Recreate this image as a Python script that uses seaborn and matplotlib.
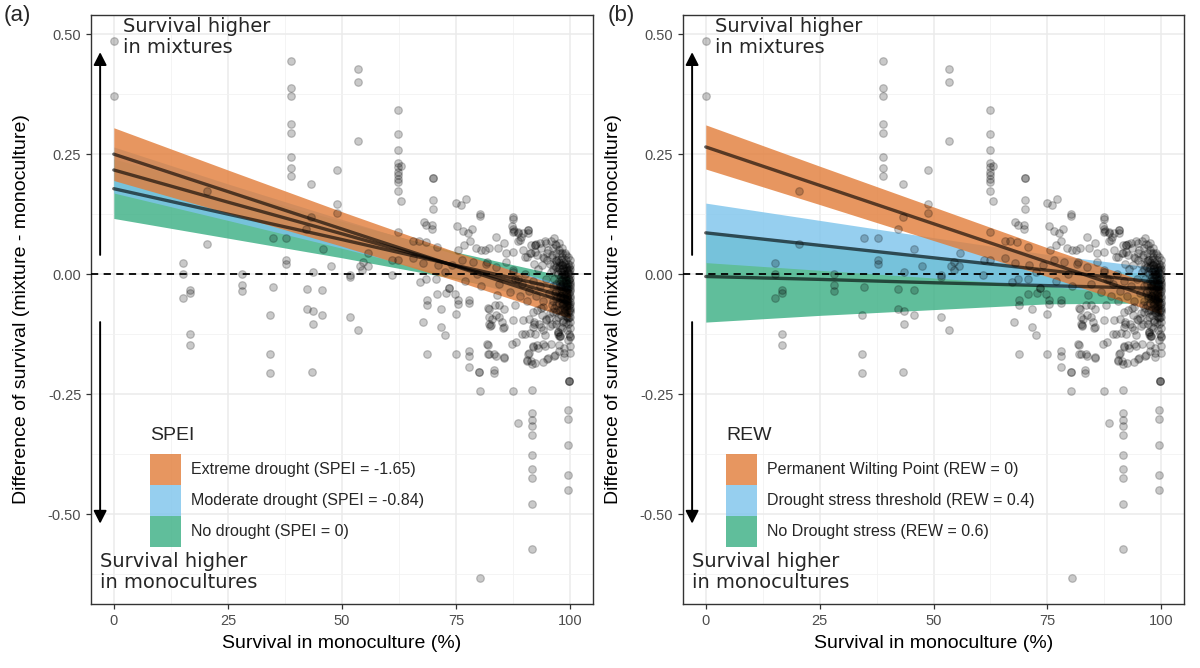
import matplotlib
matplotlib.use("Agg")
import numpy as np
import pandas as pd
import matplotlib.pyplot as plt
import seaborn as sns
from matplotlib.patches import Patch
from matplotlib.ticker import MultipleLocator

x1 = [0, 0, 15.2, 15.2, 15.2, 16.7, 16.7, 16.7, 16.7, 20.4,
      20.4, 28.1, 28.1, 28.1, 34.8, 34.8, 34.2, 34.3, 34.3, 37.8,
      37.8, 37.8, 38.9, 38.9, 38.9, 38.9, 38.9, 38.9, 38.9, 38.9,
      42.2, 43.3, 43.3, 43.4]
y1 = [0.485, 0.372, 0.023, 0.0, -0.05, -0.033, -0.04, -0.125, -0.147, 0.174,
      0.0625, 0.0, -0.023, -0.035, 0.076, -0.026, -0.086, -0.167, -0.206, 0.076,
      0.03, 0.022, 0.444, 0.388, 0.371, 0.313, 0.294, 0.245, 0.221, 0.205,
      0.095, 0.12, 0.187, -0.204]

x2 = [43.6, 47.5, 42.3, 45.7, 42.3, 43.6, 45.7, 43.6, 45.8, 48.9,
      48.9, 48.9, 51.7, 51.7, 51.7, 53.5, 53.5, 53.5, 53.5, 55.8,
      54.5, 55.6, 53.9, 54.4]
y2 = [0.005, 0.017, -0.031, -0.033, -0.072, -0.077, -0.085, -0.104, 0.053, 0.217,
      0.146, 0.128, -0.002, -0.006, -0.09, 0.428, 0.40, 0.277, -0.117, 0.043,
      0.026, 0.017, 0.017, 0.008]

x3 = [60.9, 62.3, 62.3, 62.3, 62.3, 62.3, 62.3, 62.3, 62.3, 62.3,
      62.3, 62.3, 62.3, 63.0, 63.0, 65.6, 65.6, 66.9, 67.9, 68.5,
      68.4, 67.8, 69.8, 69.8, 70.0, 70.0, 70.0, 70.0, 70.8, 61.0,
      71.0, 74.0, 76.4, 78.6, 81.5, 83.8, 86.0, 87.4, 72.5, 79.5,
      75.0, 76.1, 77.2, 80.2, 80.2, 75.3, 76.5, 77.5, 78.5, 83.8,
      85.5, 87.4, 87.4, 87.4, 88.6, 75.5, 76.8, 78.0, 79.3, 80.5,
      82.2, 84.2, 86.0, 81.3, 81.7, 87.5, 89.0, 89.7, 89.7, 87.5,
      87.5]
y3 = [-0.002, 0.342, 0.292, 0.259, 0.232, 0.224, 0.213, 0.206, 0.199, 0.192,
      0.174, 0.088, 0.03, 0.225, 0.153, 0.07, 0.034, 0.07, 0.109, 0.102,
      0.067, 0.023, 0.102, 0.093, 0.2, 0.2, 0.154, 0.135, 0.057, 0.03,
      0.018, 0.02, 0.03, 0.026, 0.022, 0.015, 0.025, 0.008, 0.005, 0.0,
      0.149, 0.144, 0.156, 0.126, 0.121, 0.1, 0.09, 0.085, 0.095, 0.078,
      0.064, 0.115, 0.095, 0.088, 0.088, 0.05, 0.06, 0.07, 0.055, 0.05,
      0.055, 0.054, 0.045, 0.05, 0.026, 0.046, 0.071, 0.085, 0.05, 0.119,
      0.005]

x4 = [67.2, 68.5, 70.7, 68.7, 68.7, 70.8, 72.7, 74.7, 73.4, 73.4,
      75.4, 75.4, 77.9, 77.9, 71.6, 75.0, 67.7, 71.6, 72.6, 68.7,
      75.0, 77.9, 77.9, 77.9, 80.1, 80.1, 83.3, 83.3, 81.7, 82.0,
      83.4, 85.5, 80.2, 87.5, 88.1, 82.3, 82.3, 82.6, 82.0, 83.5,
      84.5, 85.5, 85.5, 83.9, 86.8, 87.9, 77.0, 80.5, 84.5, 88.0,
      84.5, 87.5]
y4 = [-0.016, -0.011, -0.011, -0.054, -0.065, -0.042, -0.04, -0.042, -0.028, -0.028,
      -0.054, -0.063, -0.054, -0.061, -0.073, -0.084, -0.099, -0.11, -0.127, -0.167,
      -0.167, -0.16, -0.17, -0.194, -0.203, -0.203, -0.2, -0.207, -0.146, -0.166,
      -0.167, -0.172, -0.244, -0.244, -0.142, -0.089, -0.103, -0.106, -0.07, -0.065,
      -0.065, -0.072, -0.111, -0.044, -0.037, -0.065, -0.015, -0.025, -0.02, -0.01,
      -0.089, -0.096]

x5 = [88.6, 91.6, 91.6, 91.6, 91.6, 91.6, 91.6, 91.6, 91.6, 91.6,
      91.6, 80.3, 99.5, 99.5, 99.5, 99.5, 99.5, 99.7, 99.7, 99.7,
      91.0, 91.4, 92.4, 94.9, 96.6, 97.6, 98.7, 99.9, 99.9, 99.9,
      89.5, 91.1, 92.8, 94.1, 95.7, 91.9, 97.4, 97.4, 91.0, 92.0,
      93.2, 94.6, 96.1, 97.8, 99.4, 97.6, 90.6, 89.7, 91.9, 92.3,
      94.0, 94.5, 97.0, 97.4, 97.8, 100.0, 100.0, 100.0, 90.1, 94.8,
      91.9, 94.1, 95.6]
y5 = [-0.311, -0.242, -0.29, -0.303, -0.316, -0.336, -0.376, -0.406, -0.425, -0.479,
      -0.573, -0.633, -0.284, -0.302, -0.357, -0.419, -0.45, -0.222, -0.222, -0.222,
      -0.165, -0.181, -0.186, -0.176, -0.169, -0.148, -0.165, -0.131, -0.15, -0.165,
      -0.125, -0.122, -0.148, -0.145, -0.145, -0.151, -0.12, -0.12, -0.094, -0.1,
      -0.103, -0.094, -0.103, -0.111, -0.116, -0.13, -0.178, -0.096, -0.11, -0.124,
      -0.117, -0.127, -0.103, -0.124, -0.13, -0.089, -0.113, -0.13, -0.124, -0.096,
      -0.078, -0.068, -0.082]

x6 = [90.8, 90.8, 92.3, 92.3, 93.4, 95.2, 92.3, 94.1, 95.6, 92.0,
      97.4, 88.5, 89.5, 90.2, 91.0, 91.8, 92.5, 93.3, 94.0, 94.6,
      95.3, 95.8, 90.6, 92.9, 93.8, 95.0, 96.0, 96.2, 97.0, 96.8,
      97.8, 98.2, 93.5, 96.0, 89.0, 90.0, 91.5, 94.5, 96.5, 97.5,
      98.3, 98.8]
y6 = [0.092, 0.092, 0.06, 0.06, 0.064, 0.05, 0.046, 0.036, 0.022, 0.022,
      0.029, -0.01, -0.02, 0.0, -0.035, -0.015, -0.045, -0.025, -0.055, -0.01,
      -0.04, 0.005, -0.055, 0.01, 0.02, 0.03, 0.04, 0.055, 0.06, 0.045,
      0.045, 0.035, -0.07, -0.065, -0.045, 0.035, 0.045, 0.07, 0.075, 0.065,
      0.055, 0.045]

# dense cloud next to 100 %
x7 = [96.5, 96.4, 96.6, 96.5, 97.0, 97.1, 96.9, 97.0, 97.0, 97.5,
      97.4, 97.6, 97.5, 97.5, 97.4, 98.0, 98.1, 97.9, 98.0, 98.0,
      98.1, 98.0, 98.5, 98.4, 98.6, 98.5, 98.5, 98.4, 98.6, 98.5,
      99.0, 99.1, 98.9, 99.0, 99.0, 99.1, 99.0, 98.9, 99.0, 99.5,
      99.4, 99.6, 99.5, 99.5, 99.4, 99.6, 99.5, 99.5, 100, 100,
      100, 100, 100, 100, 100, 100, 100, 100, 100, 100]
y7 = [0.02, -0.01, -0.04, -0.07, 0.03, 0.005, -0.02, -0.05, -0.08, 0.025,
      0.0, -0.015, -0.035, -0.06, -0.09, 0.03, 0.01, -0.005, -0.025, -0.045,
      -0.065, -0.085, 0.025, 0.012, -0.002, -0.018, -0.032, -0.05, -0.07, -0.095,
      0.03, 0.015, 0.0, -0.012, -0.026, -0.04, -0.055, -0.075, -0.1, 0.022,
      0.008, -0.005, -0.018, -0.03, -0.045, -0.06, -0.08, -0.105, 0.02, 0.01,
      0.0, -0.008, -0.016, -0.025, -0.035, -0.045, -0.058, -0.07, -0.08, -0.1]

x8 = [87.3, 87.6, 88.6, 89.3, 90.8, 88.6, 91.5, 92.6, 91.3, 90.6,
      92.8, 94.2, 95.0, 96.0, 96.8, 93.5, 94.8, 95.8, 96.7, 97.5,
      98.2, 99.0, 99.6, 100.0, 92.8, 93.9, 95.3, 96.3, 97.8, 99.9,
      99.2, 98.5, 96.8, 95.5, 93.6, 92.1, 98.1, 99.7, 97.7, 99.6,
      82.2, 82.9, 82.5, 85.3, 83.7, 85.0, 87.2, 90.8, 91.9, 93.0,
      94.4, 95.2, 96.5, 97.5, 98.6, 98.6, 90.6, 91.6, 94.0, 82.0,
      82.3, 83.8, 85.5]
y8 = [0.1, 0.09, 0.085, 0.078, 0.085, 0.068, 0.06, 0.062, 0.045, 0.035,
      0.04, 0.033, 0.044, 0.036, 0.028, 0.055, 0.065, 0.07, 0.062, 0.05,
      0.045, 0.04, 0.035, 0.03, -0.075, -0.085, -0.092, -0.078, -0.075, -0.075,
      -0.09, -0.1, -0.095, -0.108, -0.11, -0.103, -0.112, -0.125, -0.13, -0.138,
      -0.072, -0.093, -0.108, -0.112, -0.085, -0.1, -0.145, -0.167, -0.15, -0.154,
      -0.15, -0.175, -0.17, -0.16, -0.155, -0.172, -0.182, -0.188, -0.183, -0.148,
      -0.167, -0.17, -0.175]

x9 = [96.2, 96.3, 96.2, 96.8, 96.8, 96.8, 97.3, 97.2, 97.3, 97.7,
      97.7, 97.8, 98.2, 98.3, 98.2, 98.3, 98.7, 98.8, 98.7, 98.8,
      99.2, 99.3, 99.2, 99.3, 99.8, 99.8, 99.7, 99.8, 100.0, 100.0]
y9 = [0.01, -0.025, -0.055, 0.015, -0.035, -0.065, 0.012, -0.045, -0.075, 0.02,
      -0.025, -0.05, 0.02, -0.015, -0.035, -0.058, 0.0, -0.025, -0.06, -0.082,
      0.005, -0.02, -0.048, -0.065, 0.015, -0.01, -0.04, -0.065, -0.03, -0.05]

# core of the cloud (almost solid black in the picture)
x10 = [97.6, 97.9, 98.1, 98.4, 98.6, 98.9, 99.1, 99.3, 99.6, 99.8,
       97.8, 98.0, 98.3, 98.5, 98.8, 99.0, 99.2, 99.5, 99.7, 99.9,
       97.7, 98.2, 98.4, 98.7, 99.0, 99.3, 99.6, 99.9, 98.1, 98.6,
       99.1, 99.4, 99.8, 98.3, 98.9, 99.4, 99.7, 98.0, 98.8, 99.5]
y10 = [0.012, 0.004, 0.018, -0.008, 0.006, 0.022, -0.004, 0.012, 0.002, 0.008,
       -0.02, -0.03, -0.022, -0.04, -0.035, -0.018, -0.03, -0.024, -0.012, -0.02,
       -0.045, -0.052, -0.062, -0.048, -0.066, -0.055, -0.05, -0.062, -0.075, -0.08,
       -0.088, -0.072, -0.09, 0.0, -0.006, -0.04, -0.075, -0.015, -0.052, -0.092]

surv_mono = x1 + x2 + x3 + x4 + x5 + x6 + x7 + x8 + x9 + x10
surv_diff = y1 + y2 + y3 + y4 + y5 + y6 + y7 + y8 + y9 + y10
pts = pd.DataFrame({"mono": surv_mono, "diff": surv_diff})

# ---- model predictions (fit and half width of the ribbon) ----
pred_x = [0, 25, 50, 75, 100]

spei_labels = ["Extreme drought (SPEI = -1.65)", "Moderate drought (SPEI = -0.84)",
               "No drought (SPEI = 0)"]
spei_fit = [[0.25, 0.172, 0.094, 0.016, -0.062],
            [0.217, 0.150, 0.084, 0.017, -0.05],
            [0.178, 0.125, 0.072, 0.018, -0.035]]
spei_hw = [[0.055, 0.045, 0.036, 0.03, 0.03],
           [0.048, 0.038, 0.03, 0.024, 0.024],
           [0.062, 0.05, 0.038, 0.028, 0.028]]

rew_labels = ["Permanent Wilting Point (REW = 0)", "Drought stress threshold (REW = 0.4)",
              "No Drought stress (REW = 0.6)"]
rew_fit = [[0.265, 0.185, 0.105, 0.025, -0.055],
           [0.086, 0.06, 0.034, 0.008, -0.018],
           [-0.005, -0.011, -0.018, -0.024, -0.03]]
rew_hw = [[0.046, 0.04, 0.035, 0.03, 0.028],
          [0.062, 0.052, 0.042, 0.033, 0.03],
          [0.095, 0.075, 0.056, 0.038, 0.03]]

fill_cols = ["#E27C38", "#7CC4EC", "#38AE82"]

sns.set_theme(style="white")
plt.rcParams["font.family"] = ["Liberation Sans", "DejaVu Sans"]

fig = plt.figure(figsize=(12, 6.68), dpi=100)
ax_a = fig.add_axes([91 / 1200, 1 - 604 / 668, 502 / 1200, 589 / 668])
ax_b = fig.add_axes([683 / 1200, 1 - 604 / 668, 501 / 1200, 589 / 668])


def draw_panel(ax, fits, hws, labels, title, tag, leg_x):
    ax.set_xlim(-5, 105)
    ax.set_ylim(-0.6875, 0.54)
    ax.xaxis.set_major_locator(MultipleLocator(25))
    ax.xaxis.set_minor_locator(MultipleLocator(12.5))
    ax.yaxis.set_major_locator(MultipleLocator(0.25))
    ax.yaxis.set_minor_locator(MultipleLocator(0.125))
    ax.set_yticks([-0.5, -0.25, 0, 0.25, 0.5])
    ax.set_yticklabels(["-0.50", "-0.25", "0.00", "0.25", "0.50"])
    ax.grid(which="major", color="#EBEBEB", lw=1.1, zorder=0)
    ax.grid(which="minor", color="#F2F2F2", lw=0.6, zorder=0)
    ax.set_axisbelow(True)
    for s in ax.spines.values():
        s.set_color("#333333")
        s.set_linewidth(1.0)
    ax.tick_params(which="major", length=3.5, width=0.9, color="#333333",
                   labelsize=10.5, labelcolor="#4D4D4D", pad=3.5, bottom=True, left=True)
    ax.tick_params(which="minor", length=0)

    # ribbons: last group first so the first is on top
    for i in [2, 1, 0]:
        lo = [f - h for f, h in zip(fits[i], hws[i])]
        hi = [f + h for f, h in zip(fits[i], hws[i])]
        ax.fill_between(pred_x, lo, hi, color=fill_cols[i], alpha=0.8, lw=0, zorder=2)

    lines = pd.DataFrame({
        "x": pred_x * 3,
        "y": fits[0] + fits[1] + fits[2],
        "grp": [labels[0]] * 5 + [labels[1]] * 5 + [labels[2]] * 5,
    })
    sns.lineplot(data=lines, x="x", y="y", units="grp", estimator=None, color="black",
                 alpha=0.62, lw=2.4, ax=ax, zorder=3, legend=False)

    ax.axhline(0, color="black", lw=1.3, ls=(0, (4, 3)), zorder=3.5)

    sns.scatterplot(data=pts, x="mono", y="diff", ax=ax, s=30, color="black",
                    alpha=0.21, edgecolor="black", linewidth=0.9, zorder=4, legend=False)

    ax.set_xlabel("Survival in monoculture (%)", fontsize=14, color="black")
    ax.set_ylabel("Difference of survival (mixture - monoculture)", fontsize=14, color="black")
    ax.xaxis.set_label_coords(0.5, -0.053)
    ax.yaxis.set_label_coords(-0.122, 0.5)

    # arrows and explanations
    arr = dict(arrowstyle="-|>,head_length=0.55,head_width=0.28", color="black",
               lw=1.4, shrinkA=0, shrinkB=0, mutation_scale=14)
    ax.annotate("", xy=(-3, 0.4625), xytext=(-3, 0.04), arrowprops=arr, zorder=5)
    ax.annotate("", xy=(-3, -0.52), xytext=(-3, -0.1), arrowprops=arr, zorder=5)
    ax.text(2, 0.536, "Survival higher\nin mixtures", family="DejaVu Sans", fontsize=14,
            va="top", ha="left", linespacing=1.12, zorder=6)
    ax.text(-3, -0.58, "Survival higher\nin monocultures", family="DejaVu Sans", fontsize=14,
            va="top", ha="left", linespacing=1.12, zorder=6)

    # legend
    handles = [Patch(facecolor=c, alpha=0.8, edgecolor="none") for c in fill_cols]
    ax.legend(handles, labels, loc="upper left", bbox_to_anchor=(leg_x / 1200, 1 - 454 / 668),
              bbox_transform=fig.transFigure, frameon=False, fontsize=11.5,
              handlelength=1.95, handleheight=2.6, labelspacing=0, handletextpad=0.62,
              borderpad=0, borderaxespad=0)
    fig.text(leg_x / 1200, 1 - 436 / 668, title, fontsize=14, va="center", ha="left")
    fig.text(tag / 1200, 1 - 16 / 668, "(a)" if tag < 600 else "(b)", fontsize=16,
             va="center", ha="left")


draw_panel(ax_a, spei_fit, spei_hw, spei_labels, "SPEI", 4, 150)
draw_panel(ax_b, rew_fit, rew_hw, rew_labels, "REW", 608, 726)

fig.savefig("out.png", dpi=100)
